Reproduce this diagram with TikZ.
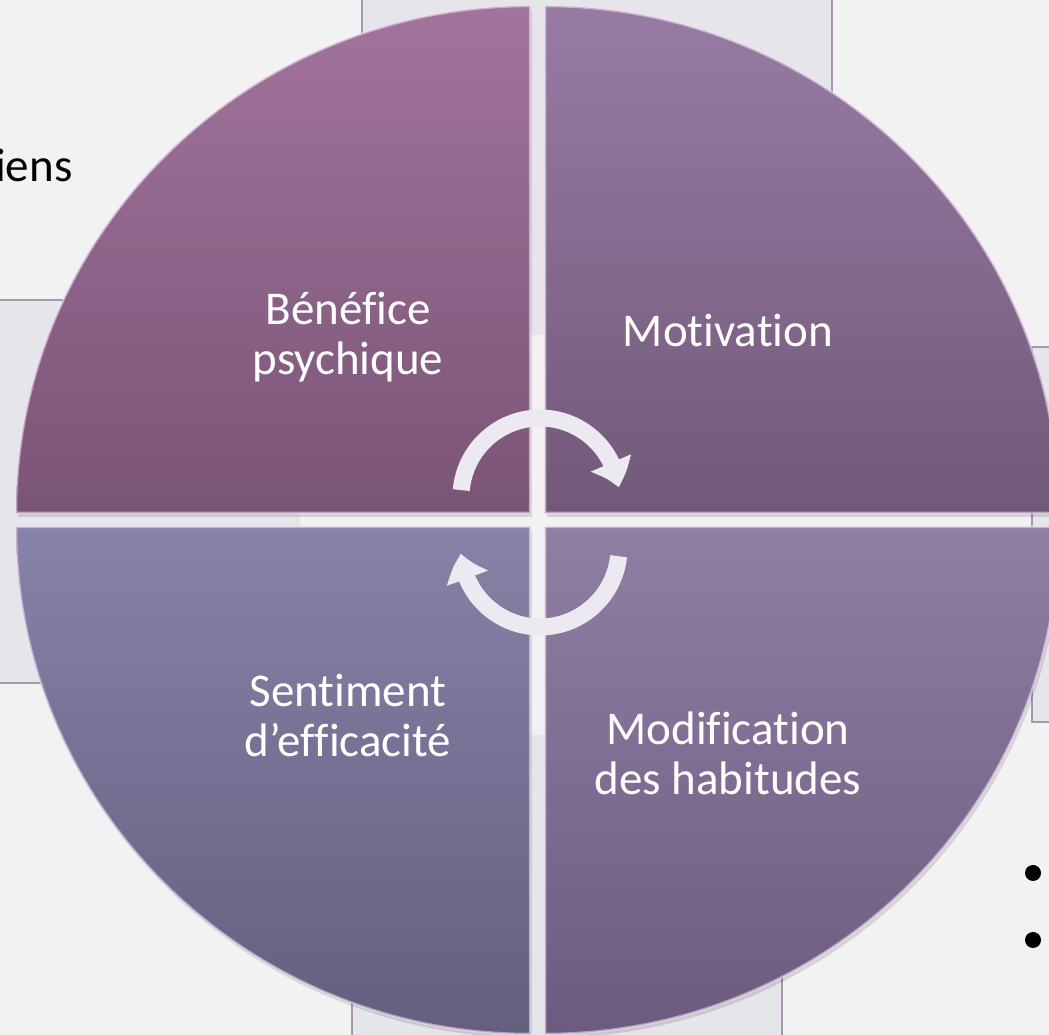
\documentclass[tikz,border=0pt]{standalone}
\usepackage{fontspec}
\setmainfont{Carlito}[Ligatures={NoCommon}]
\usetikzlibrary{arrows.meta,bending}
\definecolor{pageback}{HTML}{F2F2F2}
\definecolor{panelback}{HTML}{E5E5EA}
\definecolor{panelline}{HTML}{A696AE}
\definecolor{bevel}{HTML}{F2DDF6}
\definecolor{tltop}{HTML}{A1749C}
\definecolor{tlbot}{HTML}{7A5476}
\definecolor{trtop}{HTML}{987BA3}
\definecolor{trbot}{HTML}{715979}
\definecolor{bltop}{HTML}{8782A7}
\definecolor{blbot}{HTML}{645E7F}
\definecolor{brtop}{HTML}{8F7FA4}
\definecolor{brbot}{HTML}{6D5A7F}
\definecolor{arrowwhite}{HTML}{EDE9F1}

\begin{document}
\begin{tikzpicture}[x=1pt,y=1pt,
    panel/.style={fill=panelback},
    paneledge/.style={draw=panelline, line width=1.2pt},
    quadrant/.style={draw=bevel, draw opacity=0.55, line width=2.5pt},
    label/.style={text=white, font=\fontsize{47}{50}\selectfont, align=center},
    cyclearrow/.style={draw=arrowwhite, line width=17pt, -{Triangle[length=26pt,width=42pt,bend]}}]
    \useasboundingbox (0,0) rectangle (1049,1035);
    \fill[pageback] (0,0) rectangle (1049,1035);

    % panels behind the circle
    \fill[panel] (362,1040) rectangle (832,700);
    \draw[paneledge] (362,1040) -- (362,800) (832,1040) -- (832,800);
    \fill[panel] (-5,735) rectangle (300,352);
    \draw[paneledge] (-5,735) -- (200,735) (-5,352) -- (200,352);
    \fill[panel] (1032,688) rectangle (1055,313);
    \draw[paneledge] (1055,688) -- (1032,688) -- (1032,313) -- (1055,313);
    \fill[panel] (352,-5) rectangle (782,300);
    \draw[paneledge] (352,-5) -- (352,150) (782,-5) -- (782,150);

    \node[anchor=base east, font=\fontsize{47}{50}\selectfont] (iens) at (76,853) {iens};
    \foreach \y in {162,95}{% bullets
        \fill (1033,\y) circle (8);
    }

    % the four quarters of the circle
    \foreach \cx/\cy/\a/\top/\bot in {530/522/90/tltop/tlbot, 545/522/0/trtop/trbot,
                                      530/508/180/bltop/blbot, 545/508/270/brtop/brbot}{%
        \fill[black, opacity=0.12] (\cx+2,\cy-4) -- ++(\a:514 and 507)
            arc[start angle=\a, end angle=\a+90, x radius=514, y radius=507] -- cycle;
        \path[quadrant, top color=\top, bottom color=\bot] (\cx,\cy) -- ++(\a:514 and 507)
            arc[start angle=\a, end angle=\a+90, x radius=514, y radius=507] -- cycle;
    }

    \node[label] (benefice) at (348,698) {Bénéfice\\psychique};
    \node[label, anchor=base] (motivation) at (728,688) {Motivation};
    \node[label] (sentiment) at (348,319) {Sentiment\\d’efficacité};
    \node[label] (habitudes) at (728,282) {Modification\\des habitudes};

    % circular arrows in the middle
    \draw[cyclearrow] (540,538) ++(175:79) arc[start angle=175, end angle=7, radius=79];
    \draw[cyclearrow] (540,487) ++(-6:79) arc[start angle=-6, end angle=-176, radius=79];
\end{tikzpicture}
\end{document}
